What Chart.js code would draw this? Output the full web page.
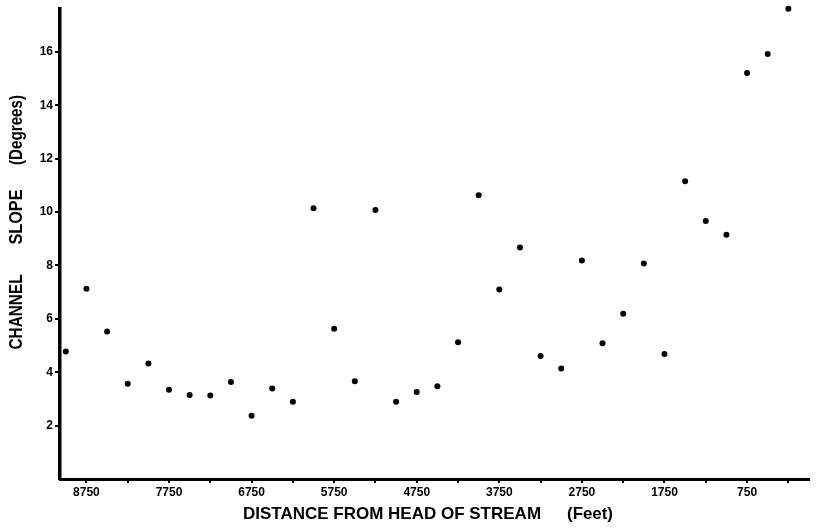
<!DOCTYPE html>
<html>
<head>
<meta charset="utf-8">
<script src="https://cdn.jsdelivr.net/npm/chart.js@4"></script>
<style>
html, body { margin: 0; padding: 0; background: #fff; }
</style>
</head>
<body>
<canvas id="slopeChart" width="816" height="528"></canvas>
<script>
// distance from head of stream (feet) and channel slope (degrees)
var distances = [9000, 8750, 8500, 8250, 8000, 7750, 7500, 7250, 7000, 6750, 6500, 6250,
                 6000, 5750, 5500, 5250, 5000, 4750, 4500, 4250, 4000, 3750, 3500, 3250,
                 3000, 2750, 2500, 2250, 2000, 1750, 1500, 1250, 1000, 750, 500, 250];
var slopes = [4.78, 7.13, 5.53, 3.57, 4.33, 3.34, 3.15, 3.13, 3.63, 2.37, 3.39, 2.89,
              10.14, 5.63, 3.66, 10.08, 2.89, 3.26, 3.47, 5.12, 10.63, 7.1, 8.67, 4.61,
              4.14, 8.19, 5.09, 6.19, 8.07, 4.68, 11.15, 9.67, 9.15, 15.21, 15.92, 17.62];

var xTickValues = [8750, 8250, 7750, 7250, 6750, 6250, 5750, 5250, 4750, 4250,
                   3750, 3250, 2750, 2250, 1750, 1250, 750, 250];
var xTickLabels = [8750, 7750, 6750, 5750, 4750, 3750, 2750, 1750, 750];
var yTickValues = [2, 4, 6, 8, 10, 12, 14, 16];

var points = distances.map(function (d, i) { return { x: d, y: slopes[i] }; });

var axisTitles = {
    id: 'axisTitles',
    afterDraw: function (chart) {
        var c = chart.ctx;
        c.save();
        c.fillStyle = '#000';
        c.textAlign = 'center';
        c.textBaseline = 'middle';
        c.font = 'bold 17px "Liberation Sans", Arial, sans-serif';
        c.fillText('DISTANCE FROM HEAD OF STREAM', 392, 514, 312);
        c.fillText('(Feet)', 590, 514, 46);
        c.translate(17, 0);
        c.rotate(-Math.PI / 2);
        c.font = 'bold 18px "Liberation Sans", Arial, sans-serif';
        c.fillText('CHANNEL', -312, 0, 75);
        c.fillText('SLOPE', -217, 0, 55);
        c.fillText('(Degrees)', -130, 0, 70);
        c.restore();
    }
};

var tickFont = { family: '"Liberation Sans", Arial, sans-serif', size: 12, weight: 'bold' };

new Chart(document.getElementById('slopeChart'), {
    type: 'scatter',
    data: {
        datasets: [{
            data: points,
            backgroundColor: '#000',
            borderWidth: 0,
            pointRadius: 3,
            clip: false
        }]
    },
    options: {
        responsive: false,
        animation: false,
        layout: { padding: { top: 5, right: 7, left: 0, bottom: 0 } },
        plugins: { legend: { display: false }, tooltip: { enabled: false } },
        scales: {
            x: {
                type: 'linear',
                reverse: true,
                min: 0,
                max: 9070,
                afterFit: function (scale) { scale.height = 49; },
                afterBuildTicks: function (scale) {
                    scale.ticks = xTickValues.map(function (v) { return { value: v }; });
                },
                ticks: {
                    color: '#000',
                    font: tickFont,
                    padding: 2,
                    maxRotation: 0,
                    autoSkip: false,
                    callback: function (v) { return xTickLabels.indexOf(v) >= 0 ? String(v) : ''; }
                },
                grid: { drawOnChartArea: false, drawTicks: true, tickLength: 4, color: '#000', lineWidth: 2 },
                border: { color: '#000', width: 3 }
            },
            y: {
                min: 0,
                max: 17.6,
                afterFit: function (scale) { scale.width = 60; },
                afterBuildTicks: function (scale) {
                    scale.ticks = yTickValues.map(function (v) { return { value: v }; });
                },
                ticks: { color: '#000', font: tickFont, padding: 2 },
                grid: { drawOnChartArea: false, drawTicks: true, tickLength: 5, color: '#000', lineWidth: 2 },
                border: { color: '#000', width: 3.5 }
            }
        }
    },
    plugins: [axisTitles]
});
</script>
</body>
</html>
